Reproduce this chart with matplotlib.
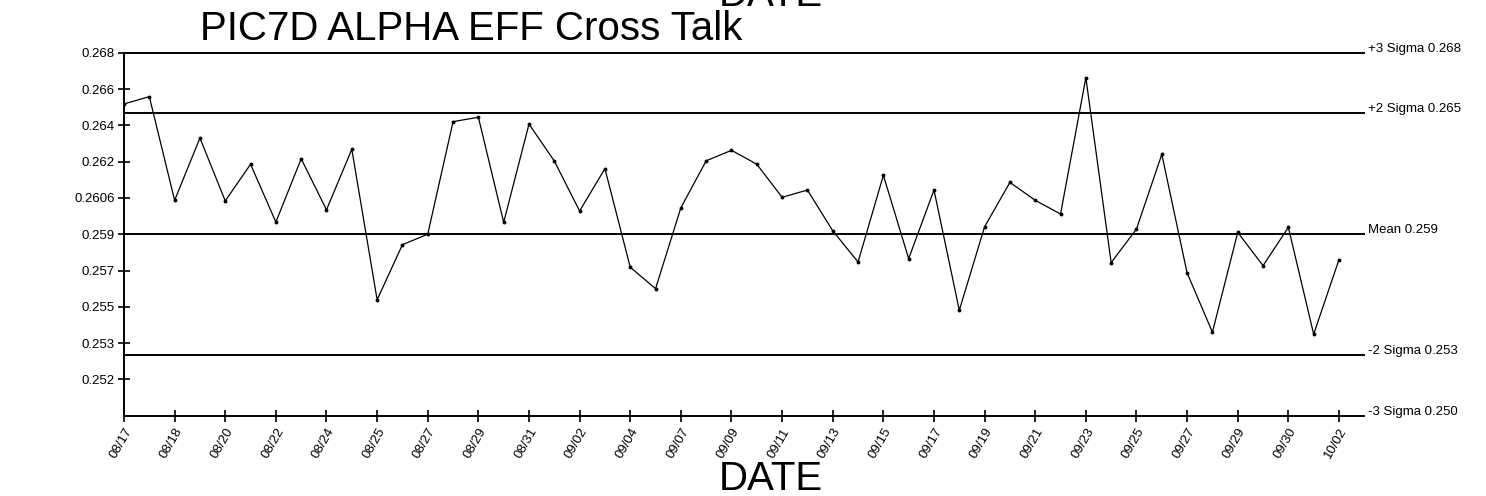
import numpy as np
import matplotlib
matplotlib.use("Agg")
import matplotlib.pyplot as plt

plt.rcParams['font.family'] = ['Liberation Sans', 'DejaVu Sans']

# Daily measurements (one point per run)
values = [
    0.26546, 0.26582, 0.26068, 0.26377, 0.26065, 0.26247, 0.25960, 0.26274,
    0.26021, 0.26321, 0.25575, 0.25848, 0.25900, 0.26458, 0.26480, 0.25959,
    0.26446, 0.26263, 0.26015, 0.26225, 0.25736, 0.25630, 0.26031, 0.26264,
    0.26316, 0.26247, 0.26083, 0.26119, 0.25917, 0.25762, 0.26192, 0.25779,
    0.26119, 0.25523, 0.25937, 0.26157, 0.26068, 0.26000, 0.26676, 0.25759,
    0.25926, 0.26296, 0.25708, 0.25414, 0.25909, 0.25744, 0.25934, 0.25404,
    0.25774,
]

# Date labels shown on every second run
date_labels = [
    "08/17", "08/18", "08/20", "08/22", "08/24", "08/25", "08/27", "08/29",
    "08/31", "09/02", "09/04", "09/07", "09/09", "09/11", "09/13", "09/15",
    "09/17", "09/19", "09/21", "09/23", "09/25", "09/27", "09/29", "09/30",
    "10/02",
]

# Control limits
mean_value = 0.259
sigma = 0.003
limit_names = ["+3 Sigma", "+2 Sigma", "Mean", "-2 Sigma", "-3 Sigma"]
limit_values = [0.268, 0.265, 0.259, 0.253, 0.250]
limit_positions = [mean_value + 3 * sigma, mean_value + 2 * sigma, mean_value,
                   mean_value - 2 * sigma, mean_value - 3 * sigma]

# Y tick labels as printed on the axis
ytick_labels = ["0.252", "0.253", "0.255", "0.257", "0.259", "0.2606",
                "0.262", "0.264", "0.266", "0.268"]

W, H = 1486, 496
fig = plt.figure(figsize=(W / 100, H / 100), dpi=100)
ax = fig.add_axes([124 / W, 1 - 415.7 / H, (1364.3 - 124) / W, (415.7 - 52.7) / H])

x = np.arange(len(values))
ax.plot(x, values, color="black", lw=0.9, marker="o", ms=1.8, zorder=3)

ax.set_xlim(0, len(values))
ymin = mean_value - 3 * sigma
ymax = mean_value + 3 * sigma
ax.set_ylim(ymin, ymax)

for name, val, pos in zip(limit_names, limit_values, limit_positions):
    ax.axhline(pos, color="black", lw=1.4, zorder=2, clip_on=False)
    ax.annotate(f"{name} {val:.3f}", xy=(1, pos), xycoords=("axes fraction", "data"),
                xytext=(3, 3), textcoords="offset points", fontsize=9.5,
                ha="left", va="center", annotation_clip=False)

yticks = np.linspace(ymin, ymax, 11)[1:]
ax.set_yticks(yticks)
ax.set_yticklabels(ytick_labels)

ax.set_xticks(x[::2])
ax.set_xticklabels(date_labels, rotation=60, ha="right", va="top",
                   rotation_mode="anchor")

for side in ("top", "right", "bottom"):
    ax.spines[side].set_visible(False)
ax.spines["left"].set_linewidth(1.4)

ax.tick_params(axis="both", direction="inout", length=9, width=1.2,
               labelsize=9.5, colors="black")
ax.tick_params(axis="x", pad=3)
ax.tick_params(axis="y", pad=2)

# Chart heading and axis captions (neighbouring panels partly visible)
fig.text(200 / W, 1 - 40 / H, "PIC7D ALPHA EFF Cross Talk", fontsize=29,
         ha="left", va="baseline")
fig.text(771 / W, 1 - 6 / H, "DATE", fontsize=29, ha="center", va="baseline")
fig.text(771 / W, 1 - 490 / H, "DATE", fontsize=29, ha="center", va="baseline")
fig.text(200 / W, 1 - 523.5 / H, "PIC7D BETA BKG", fontsize=29, ha="left",
         va="baseline")

fig.savefig("out.png", dpi=100)
